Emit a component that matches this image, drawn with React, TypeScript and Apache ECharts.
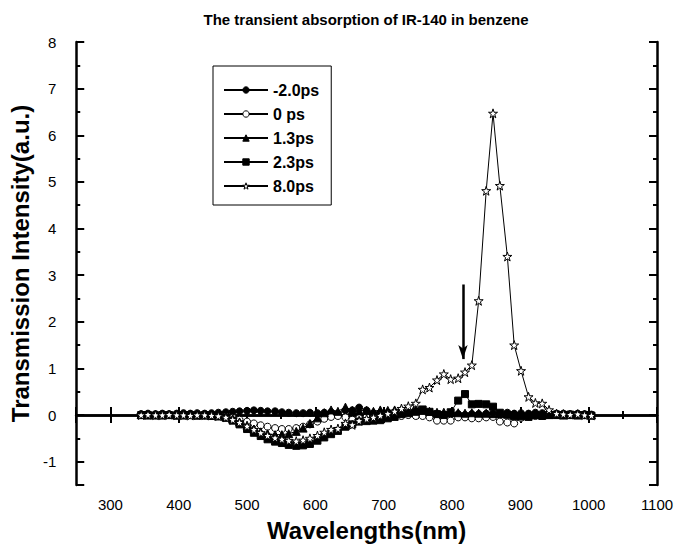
import React, { useEffect, useRef } from "react";
import * as echarts from "echarts";

const FONT = '"Liberation Sans", Arial, Helvetica, sans-serif';

const titleText = "The transient absorption of IR-140 in benzene";
const xAxisName = "Wavelengths(nm)";
const yAxisName = "Transmission Intensity(a.u.)";

const seriesNames = ["-2.0ps", "0 ps", "1.3ps", "2.3ps", "8.0ps"];

const wavelengths = [
  345, 355, 366, 376, 386, 397, 407, 417, 427, 438,
  448, 458, 469, 479, 489, 500, 510, 520, 530, 541,
  551, 561, 572, 582, 592, 603, 613, 623, 633, 644,
  654, 664, 675, 685, 695, 706, 716, 726, 736, 747,
  757, 767, 778, 788, 798, 809, 819, 829, 839, 850,
  860, 870, 881, 891, 901, 912, 922, 932, 942, 953,
  963, 973, 984, 994, 1004,
];

const valsMinus2 = [
  0.02, 0.03, 0.02, 0.03, 0.02, 0.03, 0.04, 0.03, 0.04, 0.03,
  0.04, 0.05, 0.06, 0.07, 0.08, 0.09, 0.1, 0.09, 0.08, 0.08,
  0.06, 0.05, 0.04, 0.04, 0.05, 0.04, 0.05, 0.06, 0.03, 0.1,
  0.1, 0.16, 0.1, 0.04, 0.03, 0.05, 0.06, 0.06, 0.06, 0.07,
  0.06, 0.03, 0.0, 0.0, 0.02, 0.02, 0.0, 0.02, 0.02, 0.03,
  0.04, 0.02, 0.05, 0.03, 0.04, 0.03, 0.05, 0.04, 0.04, 0.03,
  0.03, 0.02, 0.03, 0.02, 0.01,
];

const vals0 = [
  0.0, 0.01, 0.0, 0.01, 0.0, 0.0, 0.01, 0.0, 0.0, -0.01,
  -0.01, -0.02, -0.03, -0.06, -0.1, -0.14, -0.18, -0.22, -0.25, -0.28,
  -0.3, -0.3, -0.28, -0.25, -0.2, -0.14, -0.08, -0.04, -0.02, -0.05,
  -0.1, -0.07, -0.04, -0.03, -0.01, 0.0, 0.0, -0.02, 0.0, -0.02,
  -0.02, -0.05, -0.12, -0.12, -0.12, -0.05, -0.05, -0.07, -0.07, -0.05,
  -0.04, -0.14, -0.16, -0.18, -0.06, -0.03, -0.02, 0.0, 0.0, 0.01,
  0.0, 0.0, 0.01, 0.0, 0.0,
];

const vals13 = [
  0.01, 0.0, 0.01, 0.0, 0.01, 0.0, 0.0, 0.01, 0.0, 0.0,
  -0.01, -0.02, -0.03, -0.08, -0.15, -0.22, -0.3, -0.36, -0.4, -0.42,
  -0.42, -0.4, -0.35, -0.28, -0.18, -0.06, 0.05, 0.11, 0.08, 0.17,
  0.1, 0.1, 0.1, 0.08, 0.11, 0.1, 0.11, 0.12, 0.1, 0.12,
  0.1, 0.08, 0.06, 0.06, 0.05, 0.05, 0.04, 0.05, 0.04, 0.04,
  0.03, 0.03, 0.02, 0.02, 0.01, 0.01, 0.01, 0.02, 0.01, 0.01,
  0.0, 0.01, 0.0, 0.01, 0.0,
];

const vals23 = [
  0.0, 0.0, -0.01, 0.0, 0.0, -0.01, 0.0, 0.0, -0.01, 0.0,
  -0.01, -0.02, -0.06, -0.12, -0.2, -0.3, -0.38, -0.45, -0.52, -0.57,
  -0.6, -0.64, -0.66, -0.65, -0.62, -0.55, -0.48, -0.41, -0.34, -0.25,
  -0.2, -0.14, -0.13, -0.12, -0.11, -0.07, -0.04, 0.02, 0.04, 0.07,
  0.12, 0.07, 0.02, 0.0, 0.06, 0.31, 0.45, 0.23, 0.24, 0.23,
  0.18, 0.05, 0.01, -0.03, -0.03, -0.04, 0.0, -0.02, 0.0, 0.01,
  0.0, 0.01, 0.0, 0.0, -0.01,
];

const vals80 = [
  0.0, 0.01, 0.0, 0.0, 0.01, 0.0, 0.0, -0.01, 0.0, 0.0,
  -0.01, -0.02, -0.05, -0.1, -0.16, -0.24, -0.31, -0.38, -0.44, -0.49,
  -0.52, -0.55, -0.56, -0.54, -0.5, -0.44, -0.37, -0.31, -0.29, -0.18,
  -0.21, -0.12, -0.08, -0.05, -0.01, 0.03, 0.08, 0.14, 0.19, 0.25,
  0.55, 0.59, 0.75, 0.88, 0.77, 0.79, 0.92, 1.07, 2.45, 4.81,
  6.47, 4.92, 3.4, 1.5, 0.95, 0.39, 0.26, 0.25, 0.11, 0.03,
  0.02, 0.01, 0.02, 0.0, -0.01,
];

// arrow annotation (data coordinates)
const arrowX = 816;
const arrowFrom = 2.8;
const arrowTo = 1.2;

const STAR =
  "path://M50,2 L61.8,37.6 L99,37.6 L68.9,59.6 L80.4,95.4 L50,73.3 L19.6,95.4 L31.1,59.6 L1,37.6 L38.2,37.6 Z";

const seriesStyles = [
  { symbol: "circle", size: 7, fill: "#000" },
  { symbol: "circle", size: 7, fill: "#fff" },
  { symbol: "triangle", size: 8, fill: "#000" },
  { symbol: "rect", size: 7, fill: "#000" },
  { symbol: STAR, size: 9, fill: "#fff" },
];

const seriesValues = [valsMinus2, vals0, vals13, vals23, vals80];

export default function App() {
  const ref = useRef<HTMLDivElement>(null);

  useEffect(() => {
    if (!ref.current) return;
    const chart = echarts.init(ref.current, null, { renderer: "svg" });

    const axisLine = { show: true, lineStyle: { color: "#000", width: 2.5 } };
    const minorTick = { show: true, inside: true, length: 4, lineStyle: { color: "#000", width: 2 } };
    const majorTick = { show: true, inside: true, length: 8, lineStyle: { color: "#000", width: 2 } };
    const labelStyle = { color: "#000", fontSize: 15, fontFamily: FONT };
    const nameStyle = { color: "#000", fontSize: 24, fontWeight: "bold" as const, fontFamily: FONT };

    const xBase = { type: "value" as const, min: 250, max: 1100, splitLine: { show: false } };
    const yBase = { type: "value" as const, min: -1.5, max: 8, splitLine: { show: false } };

    const series: any[] = seriesNames.map((name, k) => ({
      type: "line",
      name,
      xAxisIndex: 0,
      yAxisIndex: 0,
      data: wavelengths.map((w, i) => [w, seriesValues[k][i]]),
      symbol: seriesStyles[k].symbol,
      symbolSize: seriesStyles[k].size,
      showAllSymbol: true,
      lineStyle: { color: "#000", width: 1 },
      itemStyle: { color: seriesStyles[k].fill, borderColor: "#000", borderWidth: 1 },
      z: 2 + k,
    }));

    series[4].markLine = {
      silent: true,
      symbol: ["none", "arrow"],
      symbolSize: [7, 14],
      label: { show: false },
      lineStyle: { color: "#000", width: 2.5, type: "solid" },
      data: [[{ coord: [arrowX, arrowFrom] }, { coord: [arrowX, arrowTo] }]],
    };

    chart.setOption({
      animation: false,
      backgroundColor: "#fff",
      title: {
        text: titleText,
        left: 366,
        top: 12,
        padding: 0,
        textAlign: "center",
        textStyle: { color: "#000", fontSize: 15, fontWeight: "bold", fontFamily: FONT },
      },
      grid: { left: 76, right: 24, top: 42, bottom: 71, containLabel: false },
      legend: {
        orient: "vertical",
        left: 213,
        top: 66,
        itemWidth: 44,
        itemHeight: 8,
        itemGap: 6,
        padding: [15, 12, 10, 10],
        borderColor: "#000",
        borderWidth: 1,
        selectedMode: false,
        textStyle: { color: "#000", fontSize: 16, fontWeight: "bold", fontFamily: FONT, lineHeight: 18 },
        data: seriesNames.map((name, k) => ({
          name,
          itemStyle: { color: seriesStyles[k].fill, borderColor: "#000", borderWidth: 1 },
        })),
      },
      xAxis: [
        {
          ...xBase,
          position: "bottom",
          interval: 50,
          axisLine,
          axisTick: minorTick,
          axisLabel: {
            ...labelStyle,
            margin: 12,
            formatter: (v: number) => (Math.round(v) % 100 === 0 ? String(Math.round(v)) : ""),
          },
          name: xAxisName,
          nameLocation: "middle",
          nameGap: 33,
          nameTextStyle: nameStyle,
        },
        {
          ...xBase,
          position: "bottom",
          splitNumber: 8,
          axisLine: { show: false },
          axisTick: majorTick,
          axisLabel: { show: false },
        },
        {
          ...xBase,
          position: "top",
          interval: 50,
          axisLine,
          axisTick: minorTick,
          axisLabel: { show: false },
        },
        {
          ...xBase,
          position: "top",
          splitNumber: 8,
          axisLine: { show: false },
          axisTick: majorTick,
          axisLabel: { show: false },
        },
      ],
      yAxis: [
        {
          ...yBase,
          position: "left",
          interval: 0.5,
          axisLine,
          axisTick: minorTick,
          axisLabel: {
            ...labelStyle,
            margin: 20,
            formatter: (v: number) => (Math.abs(v - Math.round(v)) < 1e-6 ? String(Math.round(v)) : ""),
          },
          name: yAxisName,
          nameLocation: "middle",
          nameGap: 42,
          nameRotate: 90,
          nameTextStyle: nameStyle,
        },
        {
          ...yBase,
          position: "left",
          splitNumber: 9,
          axisLine: { show: false },
          axisTick: majorTick,
          axisLabel: { show: false },
        },
        {
          ...yBase,
          position: "right",
          interval: 0.5,
          axisLine,
          axisTick: minorTick,
          axisLabel: { show: false },
        },
        {
          ...yBase,
          position: "right",
          splitNumber: 9,
          axisLine: { show: false },
          axisTick: majorTick,
          axisLabel: { show: false },
        },
      ],
      series,
    });

    return () => chart.dispose();
  }, []);

  return (
    <div
      ref={ref}
      style={{ position: "fixed", left: 0, top: 0, width: 681, height: 556, background: "#fff" }}
    />
  );
}
